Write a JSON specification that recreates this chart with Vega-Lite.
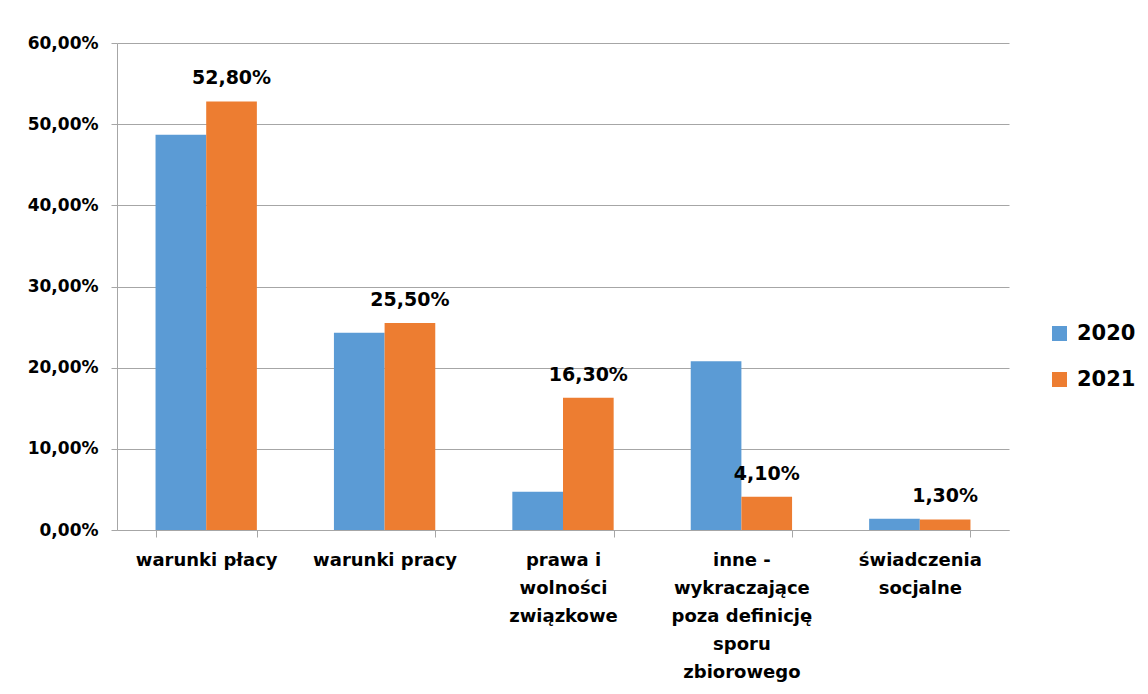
{
  "$schema": "https://vega.github.io/schema/vega-lite/v6.json",
  "width": 892,
  "height": 487,
  "autosize": {"type": "none"},
  "padding": {"left": 117, "top": 43, "right": 139, "bottom": 164},
  "background": "white",
  "config": {
    "locale": {"number": {"decimal": ",", "thousands": " ", "grouping": [3], "currency": ["", " zł"]}},
    "font": "DejaVu Sans",
    "view": {"stroke": null}
  },
  "data": {
    "values": [
      {"kategoria": "warunki płacy", "rok": "2020", "wartosc": 0.487},
      {"kategoria": "warunki płacy", "rok": "2021", "wartosc": 0.528},
      {"kategoria": "warunki pracy", "rok": "2020", "wartosc": 0.243},
      {"kategoria": "warunki pracy", "rok": "2021", "wartosc": 0.255},
      {"kategoria": "prawa i wolności związkowe", "rok": "2020", "wartosc": 0.047},
      {"kategoria": "prawa i wolności związkowe", "rok": "2021", "wartosc": 0.163},
      {"kategoria": "inne - wykraczające poza definicję sporu zbiorowego", "rok": "2020", "wartosc": 0.208},
      {"kategoria": "inne - wykraczające poza definicję sporu zbiorowego", "rok": "2021", "wartosc": 0.041},
      {"kategoria": "świadczenia socjalne", "rok": "2020", "wartosc": 0.014},
      {"kategoria": "świadczenia socjalne", "rok": "2021", "wartosc": 0.013}
    ]
  },
  "encoding": {
    "x": {
      "field": "kategoria",
      "type": "nominal",
      "sort": null,
      "scale": {"paddingInner": 0.432, "paddingOuter": 0.216},
      "axis": {
        "title": null,
        "labelAngle": 0,
        "labelFont": "DejaVu Sans",
        "labelFontWeight": "bold",
        "labelFontSize": 18,
        "labelColor": "#000000",
        "labelLineHeight": 28,
        "labelPadding": 14,
        "labelLimit": 300,
        "tickBand": "extent",
        "tickSize": 7,
        "tickColor": "#a6a6a6",
        "domainColor": "#a6a6a6",
        "labelExpr": "datum.value == 'prawa i wolności związkowe' ? ['prawa i', 'wolności', 'związkowe'] : datum.value == 'inne - wykraczające poza definicję sporu zbiorowego' ? ['inne -', 'wykraczające', 'poza definicję', 'sporu', 'zbiorowego'] : datum.value == 'świadczenia socjalne' ? ['świadczenia', 'socjalne'] : datum.label"
      }
    },
    "xOffset": {"field": "rok", "type": "nominal", "scale": {"paddingInner": 0, "paddingOuter": 0}},
    "y": {
      "field": "wartosc",
      "type": "quantitative",
      "scale": {"domain": [0, 0.6], "nice": false},
      "axis": {
        "title": null,
        "values": [0, 0.1, 0.2, 0.3, 0.4, 0.5, 0.6],
        "format": ".2%",
        "labelFont": "DejaVu Sans",
        "labelFontWeight": "bold",
        "labelFontSize": 17,
        "labelColor": "#000000",
        "labelPadding": 13,
        "tickSize": 6,
        "tickColor": "#a6a6a6",
        "domainColor": "#a6a6a6",
        "gridColor": "#a6a6a6",
        "gridWidth": 1
      }
    }
  },
  "layer": [
    {
      "mark": {"type": "bar"},
      "encoding": {
        "color": {
          "field": "rok",
          "type": "nominal",
          "scale": {"domain": ["2020", "2021"], "range": ["#5B9BD5", "#ED7D31"]},
          "legend": {
            "title": null,
            "orient": "none",
            "legendX": 932,
            "legendY": 280,
            "symbolType": "square",
            "symbolSize": 225,
            "symbolStrokeWidth": 0,
            "labelFont": "DejaVu Sans",
            "labelFontWeight": "bold",
            "labelFontSize": 21,
            "labelColor": "#000000",
            "labelOffset": 7,
            "rowPadding": 24
          }
        }
      }
    },
    {
      "transform": [{"filter": "datum.rok == '2021'"}],
      "mark": {
        "type": "text",
        "font": "DejaVu Sans",
        "fontWeight": "bold",
        "fontSize": 19,
        "baseline": "alphabetic",
        "align": "center",
        "dy": -17,
        "color": "#000000"
      },
      "encoding": {
        "text": {"field": "wartosc", "type": "quantitative", "format": ".2%"}
      }
    }
  ]
}
